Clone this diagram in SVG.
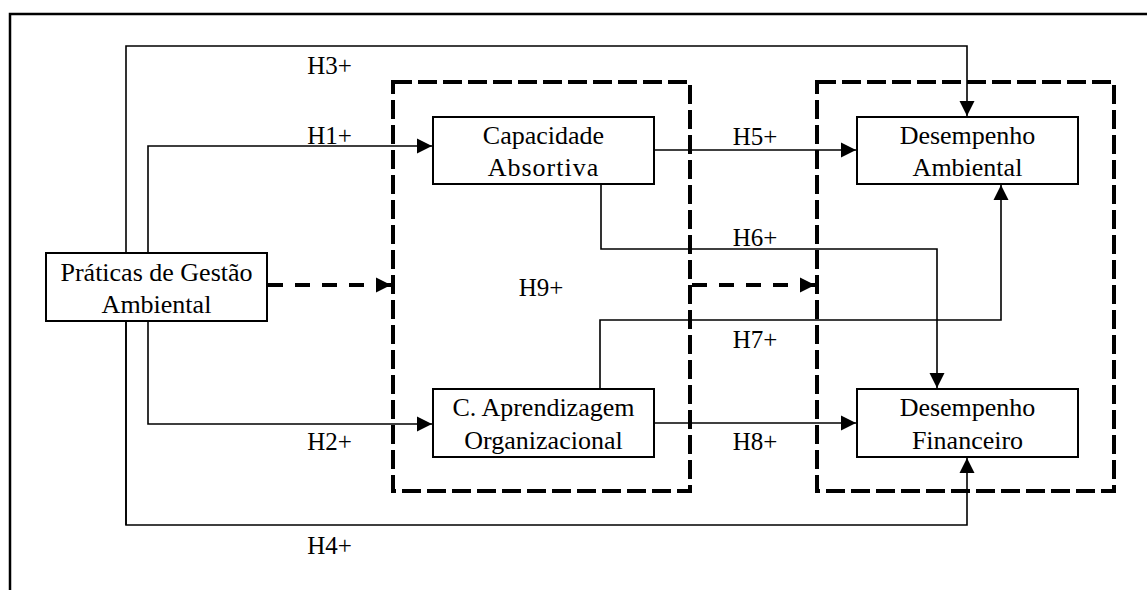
<svg xmlns="http://www.w3.org/2000/svg" width="1147" height="590" viewBox="0 0 1147 590">
<defs>
<style>
.box{fill:#fff;stroke:#000;stroke-width:2}
.grp{fill:none;stroke:#000;stroke-width:4;stroke-dasharray:19 6}
.c{fill:none;stroke:#000;stroke-width:1.6}
.d{fill:none;stroke:#000;stroke-width:4;stroke-dasharray:15 12}
text{font-family:"Liberation Serif","Times New Roman",serif;font-size:26px;fill:#000;text-anchor:middle}
.lbl{font-size:25px}
</style>
<marker id="ah" markerUnits="userSpaceOnUse" markerWidth="16" markerHeight="16" viewBox="0 0 16 16" refX="15" refY="8" orient="auto">
<path d="M0,0.5 L15,8 L0,15.5 Z" fill="#000"/>
</marker>
</defs>
<rect width="1147" height="590" fill="#fff"/>
<path d="M10,590 V14 H1147" fill="none" stroke="#000" stroke-width="2.5"/>
<g id="groups">
<rect id="grupo-capacidades" class="grp" x="393" y="82" width="297" height="409"/>
<rect id="grupo-desempenho" class="grp" x="817" y="82" width="297" height="409"/>
</g>
<g id="connectors">
<path class="c" d="M126,525 V46 H967 V116" marker-end="url(#ah)"/>
<path class="c" d="M126,300 V525 H967 V458" marker-end="url(#ah)"/>
<path class="c" d="M148,300 V146 H432" marker-end="url(#ah)"/>
<path class="c" d="M148,300 V424 H432" marker-end="url(#ah)"/>
<path class="c" d="M654,150 H856" marker-end="url(#ah)"/>
<path class="c" d="M601,184 V249 H937 V388" marker-end="url(#ah)"/>
<path class="c" d="M600,389 V320 H1001 V185" marker-end="url(#ah)"/>
<path class="c" d="M654,423 H856" marker-end="url(#ah)"/>
<path class="d" d="M268,285 H391" marker-end="url(#ah)"/>
<path class="d" d="M692,285 H815" marker-end="url(#ah)"/>
</g>
<g id="praticas">
<rect class="box" x="46" y="253" width="221" height="68"/>
<text x="156.5" y="281">Práticas de Gestão</text>
<text x="156.5" y="313">Ambiental</text>
</g>
<g id="capacidade-absortiva">
<rect class="box" x="433" y="117" width="221" height="67"/>
<text x="543.5" y="144">Capacidade</text>
<text x="543.5" y="176" letter-spacing="1">Absortiva</text>
</g>
<g id="aprendizagem">
<rect class="box" x="433" y="389" width="221" height="68"/>
<text x="543.5" y="416">C. Aprendizagem</text>
<text x="543.5" y="449">Organizacional</text>
</g>
<g id="desempenho-ambiental">
<rect class="box" x="857" y="117" width="221" height="67"/>
<text x="967.5" y="144">Desempenho</text>
<text x="967.5" y="176">Ambiental</text>
</g>
<g id="desempenho-financeiro">
<rect class="box" x="857" y="389" width="221" height="68"/>
<text x="967.5" y="416">Desempenho</text>
<text x="967.5" y="449">Financeiro</text>
</g>
<g id="labels">
<text class="lbl" x="329.5" y="74">H3+</text>
<text class="lbl" x="329.5" y="144">H1+</text>
<text class="lbl" x="329.5" y="450">H2+</text>
<text class="lbl" x="329.5" y="554">H4+</text>
<text class="lbl" x="755" y="145">H5+</text>
<text class="lbl" x="755" y="246">H6+</text>
<text class="lbl" x="755" y="348">H7+</text>
<text class="lbl" x="755" y="450">H8+</text>
<text class="lbl" x="541" y="296">H9+</text>
</g>
</svg>
